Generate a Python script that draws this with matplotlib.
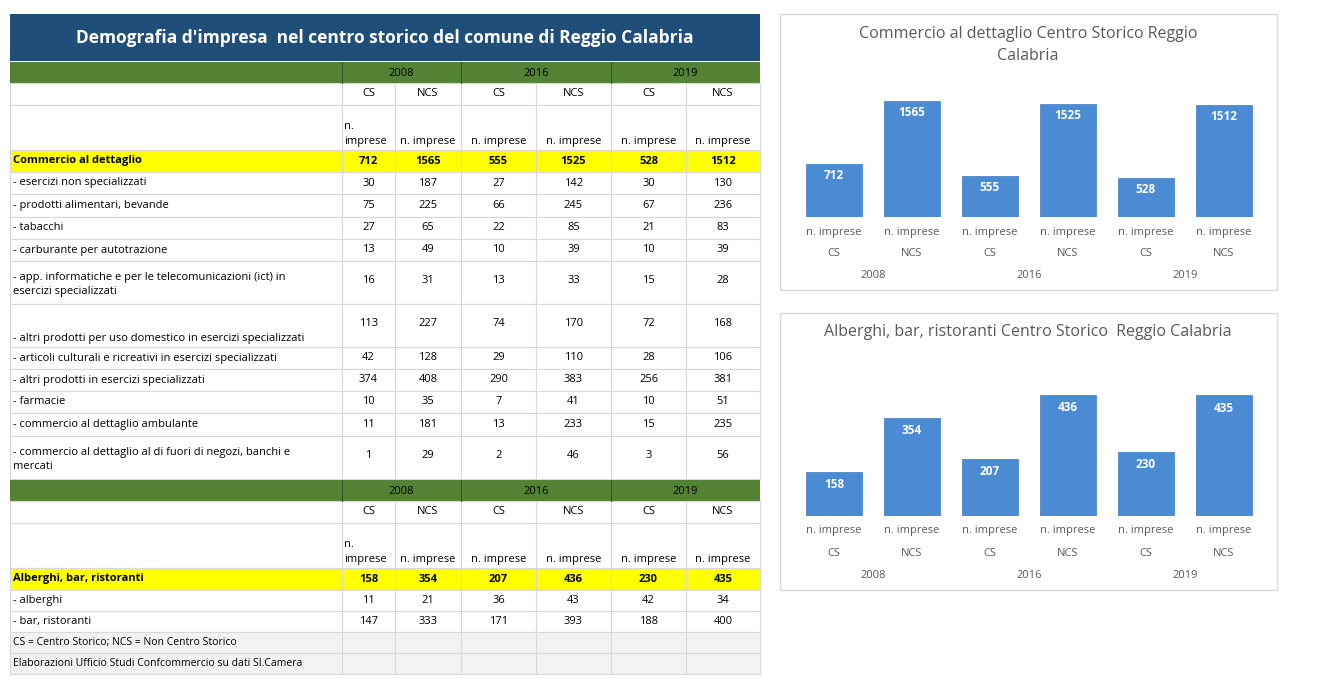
import matplotlib
matplotlib.use("Agg")
import matplotlib.pyplot as plt
from matplotlib.patches import Rectangle
from matplotlib.transforms import blended_transform_factory as btf

years = ["2008", "2016", "2019"]
cols = ["CS", "NCS", "CS", "NCS", "CS", "NCS"]
commercio_labels = [
    "- esercizi non specializzati", "- prodotti alimentari, bevande", "- tabacchi",
    "- carburante per autotrazione",
    "- app. informatiche e per le telecomunicazioni (ict) in\nesercizi specializzati",
    "- altri prodotti per uso domestico in esercizi specializzati",
    "- articoli culturali e ricreativi in esercizi specializzati",
    "- altri prodotti in esercizi specializzati", "- farmacie",
    "- commercio al dettaglio ambulante",
    "- commercio al dettaglio al di fuori di negozi, banchi e\nmercati"]
commercio_vals = [
    [30, 187, 27, 142, 30, 130], [75, 225, 66, 245, 67, 236], [27, 65, 22, 85, 21, 83],
    [13, 49, 10, 39, 10, 39], [16, 31, 13, 33, 15, 28], [113, 227, 74, 170, 72, 168],
    [42, 128, 29, 110, 28, 106], [374, 408, 290, 383, 256, 381], [10, 35, 7, 41, 10, 51],
    [11, 181, 13, 233, 15, 235], [1, 29, 2, 46, 3, 56]]
commercio_tot = [712, 1565, 555, 1525, 528, 1512]
alberghi_labels = ["- alberghi", "- bar, ristoranti"]
alberghi_vals = [[11, 21, 36, 43, 42, 34], [147, 333, 171, 393, 188, 400]]
alberghi_tot = [158, 354, 207, 436, 230, 435]

W, H = 1327, 693
fig = plt.figure(figsize=(W/100, H/100), dpi=100)
bg = fig.add_axes([0, 0, 1, 1])
bg.set_xlim(0, W); bg.set_ylim(H, 0); bg.axis("off")
F = "Open Sans"
xb = [10, 342, 395, 461, 536, 611, 686, 760]
grid = "#D9D9D9"

def rect(x0, y0, x1, y1, fc, ec="none", lw=0.8):
    bg.add_patch(Rectangle((x0, y0), x1-x0, y1-y0, fc=fc, ec=ec, lw=lw))

def cells(y0, y1, fc="white"):
    for i in range(7):
        rect(xb[i], y0, xb[i+1], y1, fc, grid)

# title
rect(10, 14, 760, 61, "#1F4E79")
bg.text(385, 38, "Demografia d'impresa  nel centro storico del comune di Reggio Calabria",
        color="white", fontsize=12.5, fontweight="bold", ha="center", va="center", family=F)

def header(y0):
    rect(10, y0, 760, y0+21, "#548235")
    for k, (a, b) in enumerate([(342, 461), (461, 611), (611, 760)]):
        bg.plot([a, a], [y0, y0+21], color="#385723", lw=0.8)
        bg.text((a+b)/2, y0+11, years[k], fontsize=8, ha="center", va="center", family=F)
    y = y0+21
    cells(y, y+22)
    for i, c in enumerate(cols):
        bg.text((xb[i+1]+xb[i+2])/2, y+11, c, fontsize=8, ha="center", va="center", family=F)
    cells(y+22, y+67)
    for i in range(6):
        t = "n.\nimprese" if i == 0 else "n. imprese"
        bg.text(xb[i+1]+2 if i == 0 else (xb[i+1]+xb[i+2])/2, y+64, t, fontsize=8,
                ha="left" if i == 0 else "center", va="bottom", family=F, linespacing=1.5)
    return y+67

def datarow(y0, y1, label, vals, bold=False, fc="white", ly=None):
    cells(y0, y1, fc)
    w = "bold" if bold else "normal"
    vy = (y0+y1)/2 if ly is None else ly
    bg.text(13, (y0+y1)/2 + (5 if ly else 0), label, fontsize=8, va="center", fontweight=w,
            family=F, linespacing=1.3)
    for i, v in enumerate(vals):
        bg.text((xb[i+1]+xb[i+2])/2, vy, str(v), fontsize=8, ha="center", va="center",
                fontweight=w, family=F)

y = header(62)
datarow(y, y+22, "Commercio al dettaglio", commercio_tot, True, "#FFFF00")
y += 22
hts = [22, 23, 22, 22, 43, 43, 22, 22, 22, 23, 43]
for lab, v, h in zip(commercio_labels, commercio_vals, hts):
    ly = y+20 if "domestico" in lab else (y+h/2 - 3 if "\n" in lab else None)
    if "domestico" in lab:
        cells(y, y+h)
        bg.text(13, y+34, lab, fontsize=8, va="center", family=F)
        for i, val in enumerate(v):
            bg.text((xb[i+1]+xb[i+2])/2, y+20, str(val), fontsize=8, ha="center", va="center", family=F)
    elif "\n" in lab:
        cells(y, y+h)
        bg.text(13, y+h/2+2, lab, fontsize=8, va="center", family=F, linespacing=1.4)
        for i, val in enumerate(v):
            bg.text((xb[i+1]+xb[i+2])/2, y+h/2-2, str(val), fontsize=8, ha="center", va="center", family=F)
    else:
        datarow(y, y+h, lab, v)
    y += h
y = header(480)
datarow(y, y+22, "Alberghi, bar, ristoranti", alberghi_tot, True, "#FFFF00")
y += 22
for lab, v in zip(alberghi_labels, alberghi_vals):
    datarow(y, y+21, lab, v); y += 21
for t in ["CS = Centro Storico; NCS = Non Centro Storico",
          "Elaborazioni Ufficio Studi Confcommercio su dati SI.Camera"]:
    rect(10, y, 760, y+21, "#F2F2F2", grid)
    for xx in xb[1:-1]:
        bg.plot([xx, xx], [y, y+21], color=grid, lw=0.8)
    bg.text(13, y+11, t, fontsize=7.5, va="center", family=F)
    y += 21

def chart(y0, y1, title, vals, bottom, top, ymax, tly):
    rect(780, y0, 1277, y1, "white", "#D9D9D9", 1)
    bg.text(1028, tly, title, fontsize=11.5, color="#595959", ha="center", va="center",
            family=F, linespacing=1.5)
    ax = fig.add_axes([795/W, 1-bottom/H, 468/W, (bottom-top)/H])
    ax.set_xlim(-0.5, 5.5); ax.set_ylim(0, ymax); ax.axis("off")
    ax.patch.set_alpha(0)
    bars = ax.bar(range(6), vals, width=0.71, color="#4A8BD4", edgecolor="#3F7CC2", lw=0.5)
    for i, v in enumerate(vals):
        ax.text(i, v - ymax*0.04, str(v), color="white", fontsize=8.5, fontweight="bold",
                ha="center", va="top", family=F)
    bg.add_patch(Rectangle((800, bottom-12), 462, 12, fc="#E8E8E8", ec="none", zorder=0))
    tr = btf(ax.transData, bg.transData)
    for i in range(6):
        ax.text(i, bottom+15, "n. imprese", transform=tr, fontsize=8, color="#595959",
                ha="center", va="center", family=F)
        ax.text(i, bottom+37, cols[i], transform=tr, fontsize=8, color="#595959",
                ha="center", va="center", family=F)
    for k in range(3):
        ax.text(2*k+0.5, bottom+59, years[k], transform=tr, fontsize=8, color="#595959",
                ha="center", va="center", family=F)

chart(14, 290, "Commercio al dettaglio Centro Storico Reggio\nCalabria", commercio_tot,
      217, 90, 1565*127/116, 45)
chart(313, 590, "Alberghi, bar, ristoranti Centro Storico  Reggio Calabria", alberghi_tot,
      516, 360, 436*156/121, 332)

fig.savefig("out.png", dpi=100)
